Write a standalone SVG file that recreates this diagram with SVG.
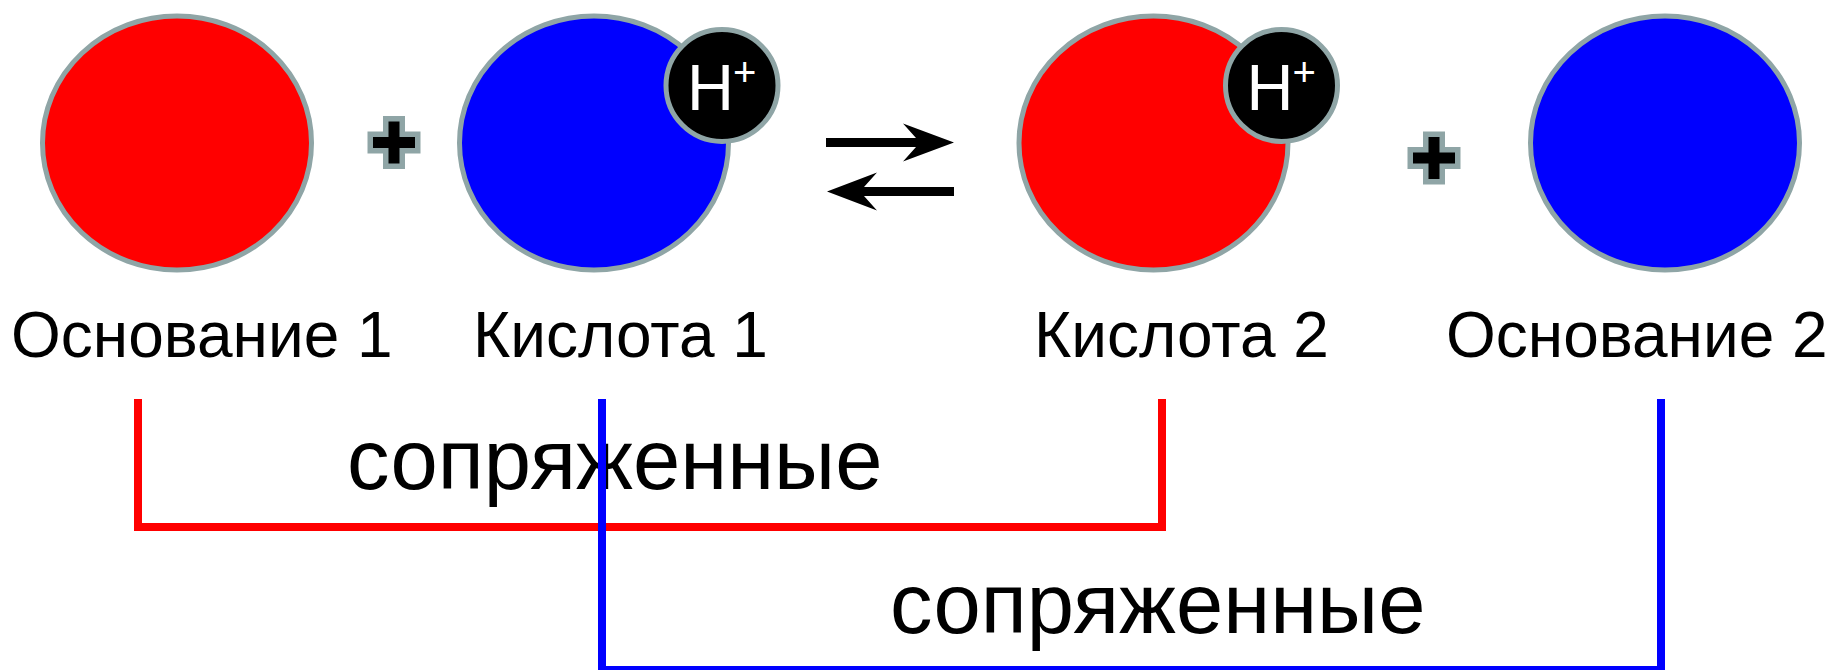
<svg xmlns="http://www.w3.org/2000/svg" xmlns:xlink="http://www.w3.org/1999/xlink" width="1829" height="670" viewBox="0 0 1829 670">
<style>
.ell{stroke:#8fa5a6;stroke-width:5}
.red{fill:#ff0000}
.blue{fill:#0000ff}
.hion{fill:#000000;stroke:#8fa5a6;stroke-width:5}
.htxt{font-family:"Liberation Sans",Arial,sans-serif;fill:#ffffff}
.lbl{font-family:"Liberation Sans",Arial,sans-serif;font-size:64px;fill:#000000}
.conj{font-family:"Liberation Sans",Arial,sans-serif;font-size:85px;fill:#000000}
.cross{fill:#000000;stroke:#8fa5a6;stroke-width:11;paint-order:stroke;stroke-linejoin:miter}
.brk{fill:none;stroke-width:8;stroke-linejoin:miter;stroke-linecap:butt}
</style>
<defs>
<path id="crossShape" d="M-21,-5.5 H-5.5 V-21 H5.5 V-5.5 H21 V5.5 H5.5 V21 H-5.5 V5.5 H-21 Z"/>
</defs>

<g id="base1">
<ellipse class="ell red" cx="177" cy="143" rx="134.5" ry="127"/>
<text class="lbl" x="11" y="357">Основание 1</text>
</g>

<g id="plus1">
<use xlink:href="#crossShape" class="cross" transform="translate(394,142.5)"/>
</g>

<g id="acid1">
<ellipse class="ell blue" cx="594" cy="143" rx="134.5" ry="127"/>
<circle class="hion" cx="722" cy="85.5" r="56"/>
<text class="htxt" x="687" y="110" font-size="65">H</text>
<text class="htxt" x="733" y="86" font-size="40">+</text>
<text class="lbl" x="473" y="357">Кислота 1</text>
</g>

<g id="equilibrium">
<path d="M826,138 L916,138 L903,123.5 L954,142.5 L903,161.5 L916,147 L826,147 Z" fill="#000"/>
<path d="M954,187 L864,187 L877,172.5 L827,191.5 L877,210.5 L864,196 L954,196 Z" fill="#000"/>
</g>

<g id="acid2">
<ellipse class="ell red" cx="1153.5" cy="143" rx="134.5" ry="127"/>
<circle class="hion" cx="1281.5" cy="85.5" r="56"/>
<text class="htxt" x="1246.5" y="110" font-size="65">H</text>
<text class="htxt" x="1292.5" y="86" font-size="40">+</text>
<text class="lbl" x="1034" y="357">Кислота 2</text>
</g>

<g id="plus2">
<use xlink:href="#crossShape" class="cross" transform="translate(1434,158)"/>
</g>

<g id="base2">
<ellipse class="ell blue" cx="1665" cy="143" rx="134.5" ry="127"/>
<text class="lbl" x="1446" y="357">Основание 2</text>
</g>

<g id="connectors">
<path class="brk" stroke="#ff0000" d="M138,399 V527 H1162 V399"/>
<text class="conj" x="347" y="489">сопряженные</text>
<path class="brk" stroke="#0000ff" d="M602,399 V670 H1661 V399"/>
<text class="conj" x="890" y="633">сопряженные</text>
</g>
</svg>
